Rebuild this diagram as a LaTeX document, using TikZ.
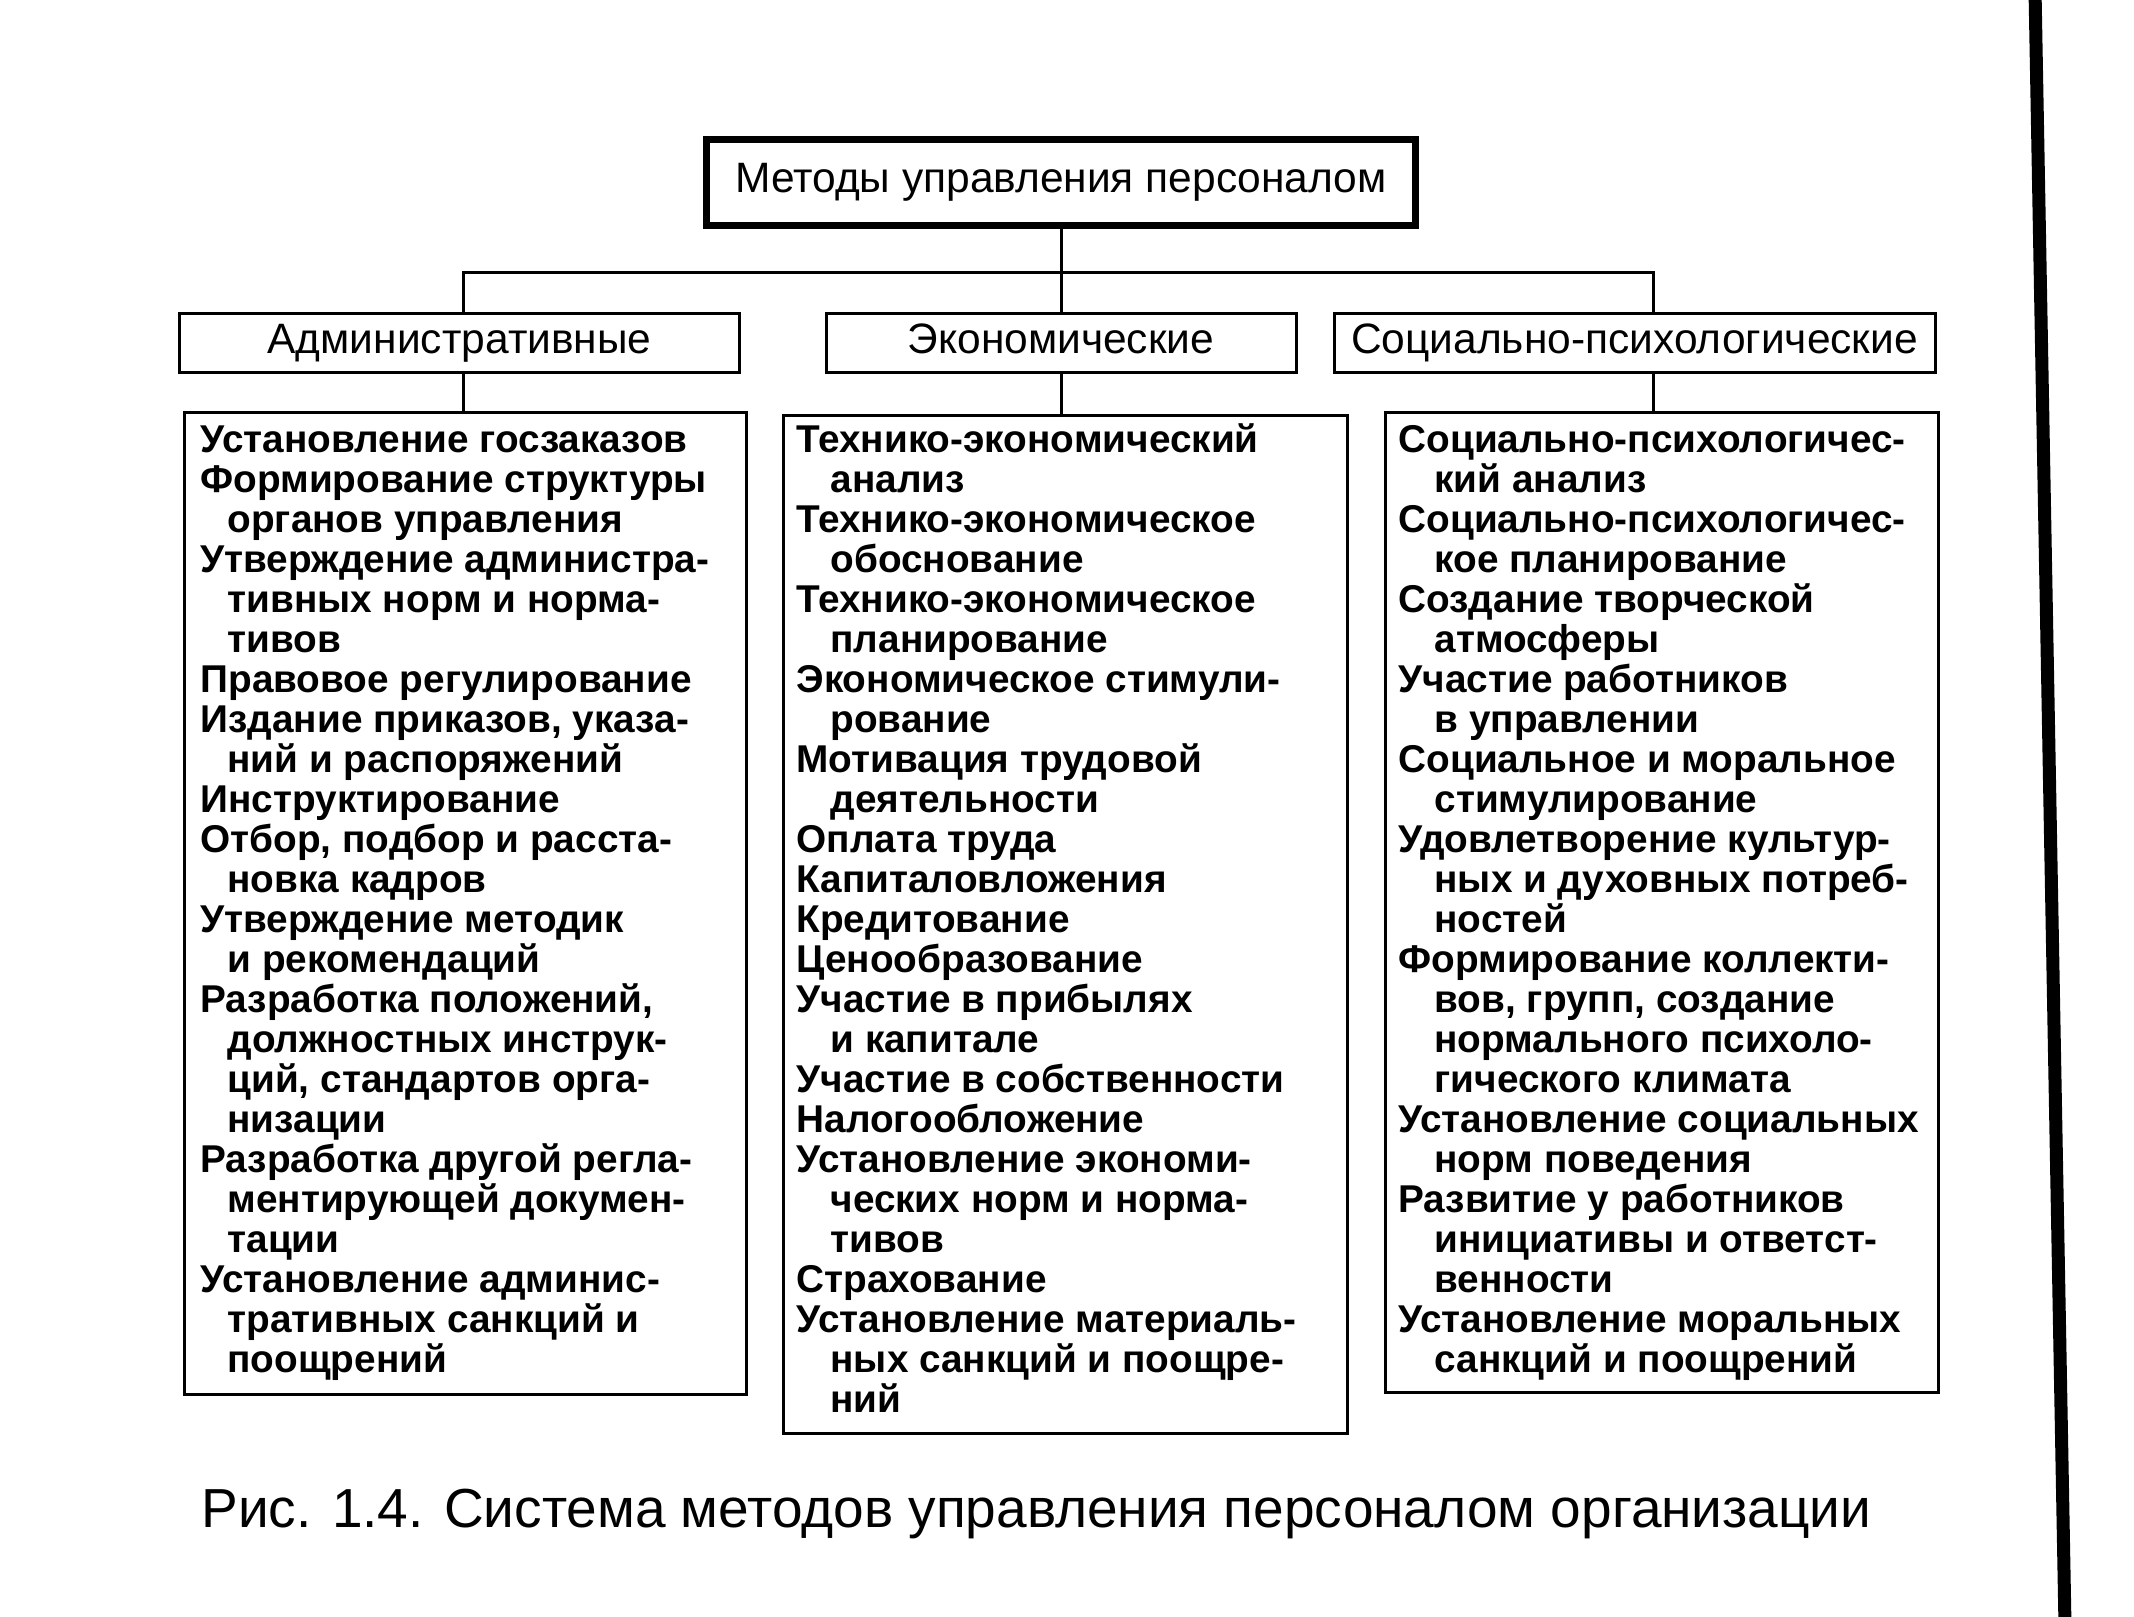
\documentclass[tikz,border=0pt]{standalone}
\usepackage{fontspec}
\setmainfont{Liberation Sans}
\begin{document}
\begin{tikzpicture}[x=0.4pt,y=-0.4pt,
  box/.style={draw,line width=1.2pt,inner sep=0pt},
  conn/.style={line width=1.2pt},
  hdr/.style={font=\fontsize{17}{20}\selectfont,text height=12.2pt,text depth=3.6pt},
  itm/.style={anchor=base west,inner sep=0pt,font=\bfseries\fontsize{15.5}{16}\selectfont}]
\useasboundingbox (0,0) rectangle (2134,1616);

% top box
\node[box,line width=2.8pt,minimum width=283.6pt,minimum height=34.4pt,hdr] (T) at (1061,182) {Методы управления персоналом};

% category boxes
\node[box,minimum width=223.6pt,minimum height=23.6pt,hdr] (HA) at (459.5,342.5) {Административные};
\node[box,minimum width=188pt,minimum height=23.6pt,hdr] (HE) at (1061,342.5) {Экономические};
\node[box,minimum width=240.4pt,minimum height=23.6pt,hdr] (HS) at (1634.5,342.5) {Социально-психологические};

% list boxes
\node[box,minimum width=224.4pt,minimum height=392.8pt] (LA) at (465.5,903) {};
\node[box,minimum width=225.6pt,minimum height=407.2pt] (LE) at (1065,924) {};
\node[box,minimum width=221.2pt,minimum height=392pt] (LS) at (1661.5,902) {};

% junctions
\coordinate (JA) at (463,272);
\coordinate (JE) at (1061,272);
\coordinate (JS) at (1653,272);

\draw[conn] (T.south) -- (JE);
\draw[conn] (JA |- HA.north) -- (JA) -- (JS) -- (JS |- HS.north);
\draw[conn] (JE) -- (HE.north);
\draw[conn] (HA.south -| JA) -- (LA.north -| JA);
\draw[conn] (HE.south) -- (HE.south |- LE.north);
\draw[conn] (HS.south -| JS) -- (LS.north -| JS);

% administrative list
\foreach \xind/\xtxt [count=\i] in {
 0/{Установление госзаказов},
 0/{Формирование структуры},
 1/{органов управления},
 0/{Утверждение администра-},
 1/{тивных норм и норма-},
 1/{тивов},
 0/{Правовое регулирование},
 0/{Издание приказов, указа-},
 1/{ний и распоряжений},
 0/{Инструктирование},
 0/{Отбор, подбор и расста-},
 1/{новка кадров},
 0/{Утверждение методик},
 1/{и рекомендаций},
 0/{Разработка положений,},
 1/{должностных инструк-},
 1/{ций, стандартов орга-},
 1/{низации},
 0/{Разработка другой регла-},
 1/{ментирующей докумен-},
 1/{тации},
 0/{Установление админис-},
 1/{тративных санкций и},
 1/{поощрений}}
 \node[itm] (a\i) at ({200+27*\xind},{452+40*(\i-1)}) {\xtxt};

% economic list
\foreach \xind/\xtxt [count=\i] in {
 0/{Технико-экономический},
 1/{анализ},
 0/{Технико-экономическое},
 1/{обоснование},
 0/{Технико-экономическое},
 1/{планирование},
 0/{Экономическое стимули-},
 1/{рование},
 0/{Мотивация трудовой},
 1/{деятельности},
 0/{Оплата труда},
 0/{Капиталовложения},
 0/{Кредитование},
 0/{Ценообразование},
 0/{Участие в прибылях},
 1/{и капитале},
 0/{Участие в собственности},
 0/{Налогообложение},
 0/{Установление экономи-},
 1/{ческих норм и норма-},
 1/{тивов},
 0/{Страхование},
 0/{Установление материаль-},
 1/{ных санкций и поощре-},
 1/{ний}}
 \node[itm] (e\i) at ({796+34*\xind},{452+40*(\i-1)}) {\xtxt};

% social-psychological list
\foreach \xind/\xtxt [count=\i] in {
 0/{Социально-психологичес-},
 1/{кий анализ},
 0/{Социально-психологичес-},
 1/{кое планирование},
 0/{Создание творческой},
 1/{атмосферы},
 0/{Участие работников},
 1/{в управлении},
 0/{Социальное и моральное},
 1/{стимулирование},
 0/{Удовлетворение культур-},
 1/{ных и духовных потреб-},
 1/{ностей},
 0/{Формирование коллекти-},
 1/{вов, групп, создание},
 1/{нормального психоло-},
 1/{гического климата},
 0/{Установление социальных},
 1/{норм поведения},
 0/{Развитие у работников},
 1/{инициативы и ответст-},
 1/{венности},
 0/{Установление моральных},
 1/{санкций и поощрений}}
 \node[itm] (s\i) at ({1398+36*\xind},{452+40*(\i-1)}) {\xtxt};

% caption
\node[anchor=base west,inner sep=0pt,font=\fontsize{22}{26}\selectfont] (cap) at (201,1527) {Рис. 1.4. Система методов управления персоналом организации};

% page edge line
\draw[line width=5.2pt] (2035,-10) -- (2065,1626);
\end{tikzpicture}
\end{document}
